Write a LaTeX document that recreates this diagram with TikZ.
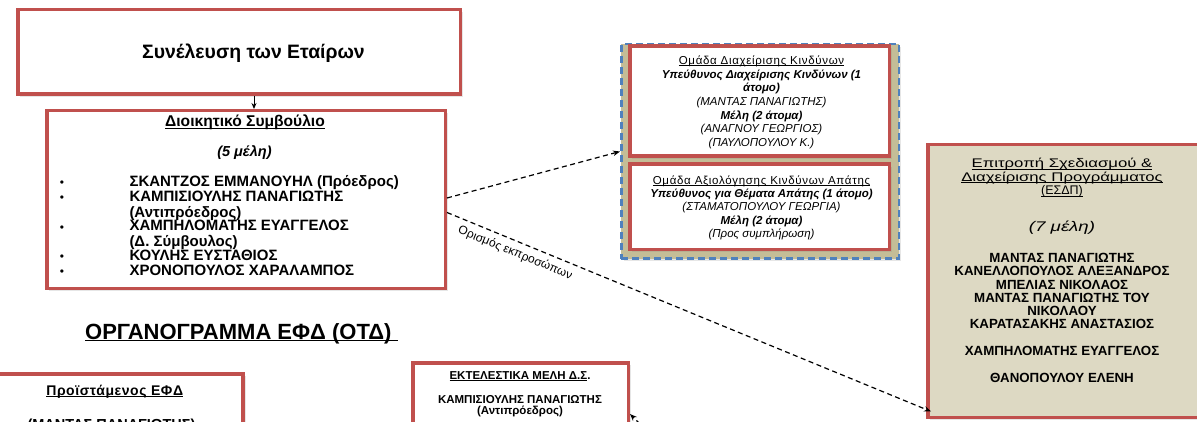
\documentclass[tikz,border=0pt]{standalone}
\usepackage{fontspec}
\setmainfont{Liberation Sans}
\newfontfamily\widefont[FakeStretch=1.34]{Liberation Sans}
\usetikzlibrary{arrows.meta}
\usetikzlibrary{shadows}
\usetikzlibrary{positioning}
\definecolor{boxred}{RGB}{192,80,77}
\definecolor{groupfill}{RGB}{196,189,151}
\definecolor{groupblue}{RGB}{79,129,189}
\definecolor{esdpfill}{RGB}{221,217,195}
\newcommand{\fsz}[2]{\fontsize{#1}{#2}\selectfont}
\newcommand{\uln}[1]{{\setbox0\hbox{#1}\rlap{\rule[-1.7pt]{\wd0}{0.8pt}}\box0}}

\begin{document}
\begin{tikzpicture}[x=1pt,y=-1pt]

\tikzset{redbox/.style = {draw=boxred, line width=3.5pt, fill=white, inner sep=0pt,
  drop shadow={shadow xshift=2.5pt, shadow yshift=-2.5pt, opacity=0.2}}}
\tikzset{groupbox/.style = {draw=groupblue, line width=2.5pt, dash pattern=on 7pt off 4pt,
  fill=groupfill, inner sep=0pt, drop shadow={shadow xshift=2.5pt, shadow yshift=-2.5pt, opacity=0.2}}}
\tikzset{txt/.style = {inner sep=0pt, anchor=base}}
\tikzset{member/.style = {txt, anchor=base west, font=\fsz{15}{16}\bfseries}}
\tikzset{dot/.style = {txt, font=\fsz{12}{14}}}
\tikzset{>={Stealth[length=7pt,width=5.5pt]}}
\tikzset{link/.style = {->, dash pattern=on 5pt off 3.5pt, line width=1.2pt}}

\useasboundingbox (0,0) rectangle (1197,422);

%boxes
\node[redbox, minimum width=442.5pt, minimum height=84.5pt] (assembly) at (239,52) {};
\node[redbox, minimum width=398.5pt, minimum height=177.5pt] (board) at (246,199.5) {};
\node[groupbox, minimum width=277.5pt, minimum height=214.5pt] (group) at (760,151.5) {};
\node[redbox, minimum width=259.5pt, minimum height=110.25pt] (riskteam) at (759.5,100.9) {};
\node[redbox, minimum width=259.5pt, minimum height=85.5pt, below=4.5pt of riskteam] (fraudteam) {};
\node[redbox, fill=esdpfill, minimum width=302.25pt, minimum height=273.25pt] (esdp) at (1078.9,281.1) {};
\node[redbox, minimum width=283.25pt, minimum height=100pt] (head) at (101.6,423.75) {};
\node[redbox, minimum width=215.5pt, minimum height=102.5pt] (exec) at (520.5,414) {};

%texts
\node[txt, font=\fsz{19.4}{21}\bfseries] (assemblytitle) at (253.5,59) {Συνέλευση των Εταίρων};

\node[txt, font=\fsz{15.6}{17}\bfseries] (boardtitle) at (245,126.7) {\uln{Διοικητικό Συμβούλιο}};
\node[txt, font=\fsz{14.5}{16}\bfseries\itshape] (boardsize) at (244.5,156.7) {(5 μέλη)};
\node[dot] (b1) at (62,187) {•};
\node[dot] (b2) at (62,202) {•};
\node[dot] (b3) at (62,232) {•};
\node[dot] (b4) at (62,261) {•};
\node[dot] (b5) at (62,276) {•};
\node[member] (m1) at (129.3,187) {ΣΚΑΝΤΖΟΣ ΕΜΜΑΝΟΥΗΛ (Πρόεδρος)};
\node[member] (m2) at (129.3,201.7) {ΚΑΜΠΙΣΙΟΥΛΗΣ ΠΑΝΑΓΙΩΤΗΣ};
\node[member] (m2b) at (129.3,217.3) {(Αντιπρόεδρος)};
\node[member] (m3) at (129.3,231) {ΧΑΜΠΗΛΟΜΑΤΗΣ ΕΥΑΓΓΕΛΟΣ};
\node[member] (m3b) at (129.3,246.7) {(Δ. Σύμβουλος)};
\node[member] (m4) at (129.3,260.5) {ΚΟΥΛΗΣ ΕΥΣΤΑΘΙΟΣ};
\node[member] (m5) at (129.3,275.7) {ΧΡΟΝΟΠΟΥΛΟΣ ΧΑΡΑΛΑΜΠΟΣ};

\node[txt, anchor=north, align=center, font=\fsz{11.5}{13.7}] (risktext) at (761.5,55.5) {\uln{\addfontfeature{LetterSpace=6}Ομάδα Διαχείρισης Κινδύνων}\\
  \textbf{\textit{Υπεύθυνος Διαχείρισης Κινδύνων (1}}\\ \textbf{\textit{άτομο)}}\\
  \textit{(ΜΑΝΤΑΣ ΠΑΝΑΓΙΩΤΗΣ)}\\ \textbf{\textit{Μέλη (2 άτομα)}}\\
  \textit{(ΑΝΑΓΝΟΥ ΓΕΩΡΓΙΟΣ)}\\ \textit{(ΠΑΥΛΟΠΟΥΛΟΥ Κ.)}};
\node[txt, anchor=north, align=center, font=\fsz{11.5}{13.3}] (fraudtext) at (761.5,175.3) {\uln{\addfontfeature{LetterSpace=6}Ομάδα Αξιολόγησης Κινδύνων Απάτης}\\
  \textbf{\textit{Υπεύθυνος για Θέματα Απάτης (1 άτομο)}}\\
  \textit{(ΣΤΑΜΑΤΟΠΟΥΛΟΥ ΓΕΩΡΓΙΑ)}\\ \textbf{\textit{Μέλη (2 άτομα)}}\\
  \textit{(Προς συμπλήρωση)}};

\node[txt, anchor=north, align=center, font=\widefont\fsz{12.5}{13.5}] (esdptitle) at (1062,158) {\uln{Επιτροπή Σχεδιασμού \&}\\
  \uln{Διαχείρισης Προγράμματος}\\ \uln{\normalfont(ΕΣΔΠ)}};
\node[txt, font=\widefont\fsz{14}{15}\itshape] (esdpsize) at (1062,231.7) {(7 μέλη)};
\node[txt, anchor=north, align=center, font=\fsz{13.3}{13.3}\bfseries] (esdpmembers) at (1062,253) {ΜΑΝΤΑΣ ΠΑΝΑΓΙΩΤΗΣ\\
  ΚΑΝΕΛΛΟΠΟΥΛΟΣ ΑΛΕΞΑΝΔΡΟΣ\\ ΜΠΕΛΙΑΣ ΝΙΚΟΛΑΟΣ\\ ΜΑΝΤΑΣ ΠΑΝΑΓΙΩΤΗΣ ΤΟΥ\\ ΝΙΚΟΛΑΟΥ\\
  ΚΑΡΑΤΑΣΑΚΗΣ ΑΝΑΣΤΑΣΙΟΣ\\[13.3pt] ΧΑΜΠΗΛΟΜΑΤΗΣ ΕΥΑΓΓΕΛΟΣ\\[13.3pt] ΘΑΝΟΠΟΥΛΟΥ ΕΛΕΝΗ};

\node[txt, anchor=base west, font=\fsz{22}{24}\bfseries] (charttitle) at (85,339.3) {\uln{ΟΡΓΑΝΟΓΡΑΜΜΑ ΕΦΔ (ΟΤΔ)\ }};

\node[txt, font=\fsz{14}{15}\bfseries\addfontfeature{LetterSpace=4}] (headtitle) at (114.7,395) {\uln{Προϊστάμενος ΕΦΔ}};
\node[txt, font=\fsz{14.5}{15}\bfseries] (headname) at (111.5,429.5) {(ΜΑΝΤΑΣ ΠΑΝΑΓΙΩΤΗΣ)};

\node[txt, font=\fsz{11.5}{12}\bfseries] (exectitle) at (520,379.3) {\uln{ΕΚΤΕΛΕΣΤΙΚΑ ΜΕΛΗ Δ.Σ}.};
\node[txt, font=\fsz{11.5}{12}\bfseries] (execname) at (520,403.3) {ΚΑΜΠΙΣΙΟΥΛΗΣ ΠΑΝΑΓΙΩΤΗΣ};
\node[txt, font=\fsz{11.5}{12}\bfseries] (execrole) at (520,414.3) {(Αντιπρόεδρος)};

%edges
\coordinate (execfrom) at (652,436);
\draw[->, line width=0.9pt, >={Stealth[length=6pt,width=5pt]}] ([xshift=15pt]assembly.south) -- ([xshift=8pt]board.north);
\draw[link] ([yshift=1.5pt]board.east) -- (group.west);
\draw[link] ([yshift=-13pt]board.east) -- ([xshift=5pt,yshift=8pt]esdp.south west)
  node[pos=0.15, sloped, below=2pt, font=\fsz{12}{14}] (reps) {Ορισμός εκπροσώπων};
\draw[link] (execfrom) -- (exec.east);

\end{tikzpicture}
\end{document}
